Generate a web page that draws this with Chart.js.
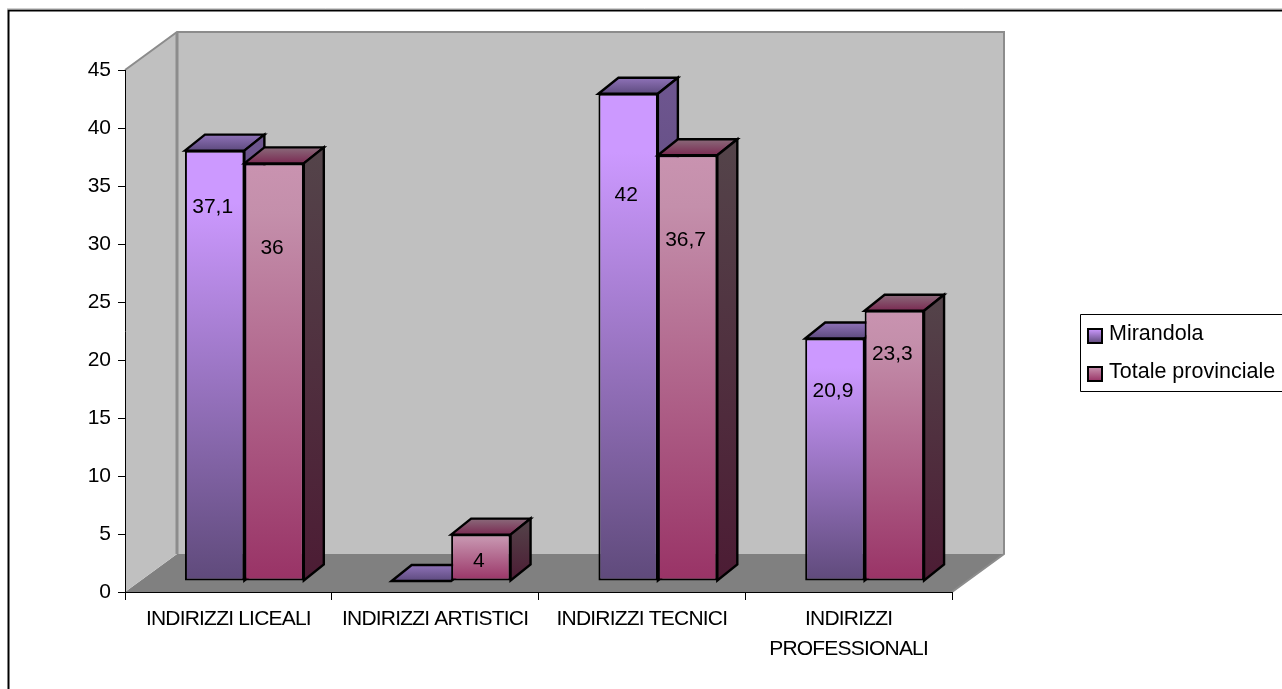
<!DOCTYPE html>
<html><head><meta charset="utf-8">
<script src="https://cdn.jsdelivr.net/npm/chart.js@4"></script>
<style>html,body{margin:0;padding:0;background:#fff}canvas{display:block}</style>
</head><body><canvas id="c" width="1282" height="689"></canvas>
<script>
const categories = [["INDIRIZZI LICEALI"],["INDIRIZZI ARTISTICI"],["INDIRIZZI TECNICI"],["INDIRIZZI","PROFESSIONALI"]];
const mirandola = [37.1, 0, 42, 20.9];
const totaleProvinciale = [36, 4, 36.7, 23.3];
const yTicks = [0,5,10,15,20,25,30,35,40,45];
const seriesNames = ["Mirandola","Totale provinciale"];

const FONT = '"Liberation Sans", Arial, sans-serif';
const FS = 21;
const WALL = {dx:52, dy:38};         // depth of the box
const BAR_FRONT = {dx:16, dy:11};    // front plane of the bars
const BAR_DEPTH = {dx:20, dy:16};    // depth of a bar
const labelDrop = [[57,null,101,53],[85,27,85,43]]; // label centre below bar top
const looks = [
 {front:['#cc99ff','#cc99ff','#5f4a7b'], stops:[0,.12,1], top:['#8f72b8','#5d4a7e'], side:['#6e5690','#4a3a60']},
 {front:['#c993b0','#c48fab','#993366'], stops:[0,.12,1], top:['#8a6a7a','#7a2a52'], side:['#54444a','#4c1c34']}
];

function frontGradient(ctx, look){
  const chart = ctx.chart, y = chart.scales.y;
  if(!y || !Number.isFinite(ctx.raw)) return look.front[0];
  const y0 = y.getPixelForValue(ctx.raw), y1 = y.getPixelForValue(0);
  if(!Number.isFinite(y0) || !Number.isFinite(y1)) return look.front[0];
  const g = chart.ctx.createLinearGradient(0, y0, 0, y1);
  look.front.forEach((c,i)=>g.addColorStop(look.stops[i],c));
  return g;
}
function poly(ctx, pts, fill){
  ctx.beginPath();
  pts.forEach((p,i)=> i?ctx.lineTo(p[0],p[1]):ctx.moveTo(p[0],p[1]));
  ctx.closePath();
  ctx.fillStyle = fill; ctx.fill();
  ctx.lineWidth = 2.4; ctx.lineJoin='miter'; ctx.strokeStyle = '#000'; ctx.stroke();
}
function drawSeries(chart, index){
  const c = chart.ctx, meta = chart.getDatasetMeta(index), look = looks[index];
  c.save();
  c.translate(BAR_FRONT.dx,-BAR_FRONT.dy);
  meta.controller.draw();               // the library draws the front faces
  c.restore();
  c.save();
  meta.data.forEach(bar=>{
    const x0 = bar.x-bar.width/2+BAR_FRONT.dx, x1 = bar.x+bar.width/2+BAR_FRONT.dx;
    const yT = bar.y-BAR_FRONT.dy, yB = bar.base-BAR_FRONT.dy;
    const d = BAR_DEPTH;
    const gt = c.createLinearGradient(0,yT-d.dy,0,yT);
    gt.addColorStop(0,look.top[0]); gt.addColorStop(1,look.top[1]);
    poly(c,[[x0,yT],[x0+d.dx,yT-d.dy],[x1+d.dx,yT-d.dy],[x1,yT]],gt);
    if(yB>yT+0.5){
      const gs = c.createLinearGradient(0,yT-d.dy,0,yB);
      gs.addColorStop(0,look.side[0]); gs.addColorStop(1,look.side[1]);
      poly(c,[[x1,yT],[x1+d.dx,yT-d.dy],[x1+d.dx,yB-d.dy],[x1,yB]],gs);
    }
  });
  c.restore();
}
const box3d = {
  id:'box3d',
  afterLayout(chart){
    const s = chart.scales.x;
    if(!s._spaced){
      s._spaced = true;
      const orig = s.drawLabels;
      s.drawLabels = function(area){
        chart.ctx.letterSpacing='-0.8px';
        orig.call(this, area);
        chart.ctx.letterSpacing='0px';
      };
    }
  },
  beforeDraw(chart){
    const c = chart.ctx, a = chart.chartArea;
    const L=a.left,R=a.right,T=a.top,B=a.bottom;
    c.save();
    // outer frame (left and top only are inside the picture)
    c.strokeStyle='#000'; c.lineWidth=2;
    c.beginPath(); c.moveTo(8.5,689); c.lineTo(8.5,10.5); c.lineTo(1282,10.5); c.stroke();
    c.strokeStyle='#a0a0a0'; c.lineWidth=1;
    c.beginPath(); c.moveTo(7,9.0); c.lineTo(1282,9.0); c.stroke();
    // floor
    c.fillStyle='#808080';
    c.beginPath(); c.moveTo(L,B); c.lineTo(R,B); c.lineTo(R+WALL.dx,B-WALL.dy); c.lineTo(L+WALL.dx,B-WALL.dy); c.closePath(); c.fill();
    // left and back walls
    c.fillStyle='#c0c0c0';
    c.beginPath(); c.moveTo(L,T); c.lineTo(L+WALL.dx,T-WALL.dy); c.lineTo(L+WALL.dx,B-WALL.dy); c.lineTo(L,B); c.closePath(); c.fill();
    c.fillRect(L+WALL.dx,T-WALL.dy,R-L,B-T);
    // wall edges
    c.strokeStyle='#8c8c8c'; c.lineWidth=2;
    c.beginPath();
    c.moveTo(L,T); c.lineTo(L+WALL.dx,T-WALL.dy); c.lineTo(R+WALL.dx,T-WALL.dy); c.lineTo(R+WALL.dx,B-WALL.dy); c.lineTo(R,B);
    c.stroke();
    c.lineWidth=3;
    c.beginPath(); c.moveTo(L+WALL.dx,T-WALL.dy); c.lineTo(L+WALL.dx,B-WALL.dy); c.stroke();
    c.restore();
  },
  beforeDatasetsDraw(chart){
    // Mirandola first, so that the neighbouring bar overlaps its side face
    drawSeries(chart,0);
    drawSeries(chart,1);
    const c = chart.ctx;
    c.save();
    c.font = FS+'px '+FONT; c.fillStyle='#000'; c.textAlign='center'; c.textBaseline='middle';
    chart.data.datasets.forEach((ds,i)=>{
      const meta = chart.getDatasetMeta(i);
      meta.data.forEach((bar,j)=>{
        if(labelDrop[i][j]===null) return;
        c.fillText(String(ds.data[j]).replace('.',','), bar.x+BAR_FRONT.dx-2, bar.y-BAR_FRONT.dy+labelDrop[i][j]);
      });
    });
    // legend
    c.fillStyle='#fff'; c.fillRect(1081,314,201,78);
    c.strokeStyle='#000'; c.lineWidth=1;
    c.beginPath(); c.moveTo(1282,314.5); c.lineTo(1080.5,314.5); c.lineTo(1080.5,391.5); c.lineTo(1282,391.5); c.stroke();
    c.textAlign='left';
    c.font = '21.5px '+FONT;
    seriesNames.forEach((name,i)=>{
      const top = 329+38*i;
      const g = c.createLinearGradient(0,top,0,top+14);
      g.addColorStop(0,looks[i].front[0]); g.addColorStop(1,looks[i].front[2]);
      c.fillStyle=g; c.fillRect(1088,top,14,14);
      c.strokeStyle='#000'; c.lineWidth=2; c.strokeRect(1088,top,14,14);
      c.fillStyle='#000';
      c.fillText(name,1109,334+38*i);
    });
    c.restore();
    return false;
  }
};

new Chart(document.getElementById('c'),{
  type:'bar',
  data:{labels:categories,datasets:[
    {label:seriesNames[0],data:mirandola,
     backgroundColor:ctx=>frontGradient(ctx,looks[0]),borderColor:'#000',borderWidth:2,borderSkipped:false},
    {label:seriesNames[1],data:totaleProvinciale,
     backgroundColor:ctx=>frontGradient(ctx,looks[1]),borderColor:'#000',borderWidth:2,borderSkipped:false}
  ]},
  options:{
    responsive:false,animation:false,
    layout:{padding:{left:0,top:70,right:330,bottom:7}},
    datasets:{bar:{categoryPercentage:0.575,barPercentage:1}},
    plugins:{legend:{display:false},tooltip:{enabled:false},title:{display:false}},
    scales:{
      x:{
        grid:{drawOnChartArea:false,offset:true,tickLength:8,color:'#000',tickColor:'#000'},
        border:{color:'#000',width:1},
        ticks:{color:'#000',font:{family:FONT,size:FS,lineHeight:1.43},autoSkip:false,maxRotation:0,minRotation:0,padding:4},
        afterFit(s){s.height=90;}
      },
      y:{
        min:0,max:45,
        afterBuildTicks(s){s.ticks=yTicks.map(v=>({value:v}));},
        grid:{drawOnChartArea:false,tickLength:7,color:'#000',tickColor:'#000'},
        border:{color:'#000',width:1},
        ticks:{color:'#000',font:{family:FONT,size:FS},padding:7},
        afterFit(s){s.width=125;}
      }
    }
  },
  plugins:[box3d]
});
</script></body></html>
